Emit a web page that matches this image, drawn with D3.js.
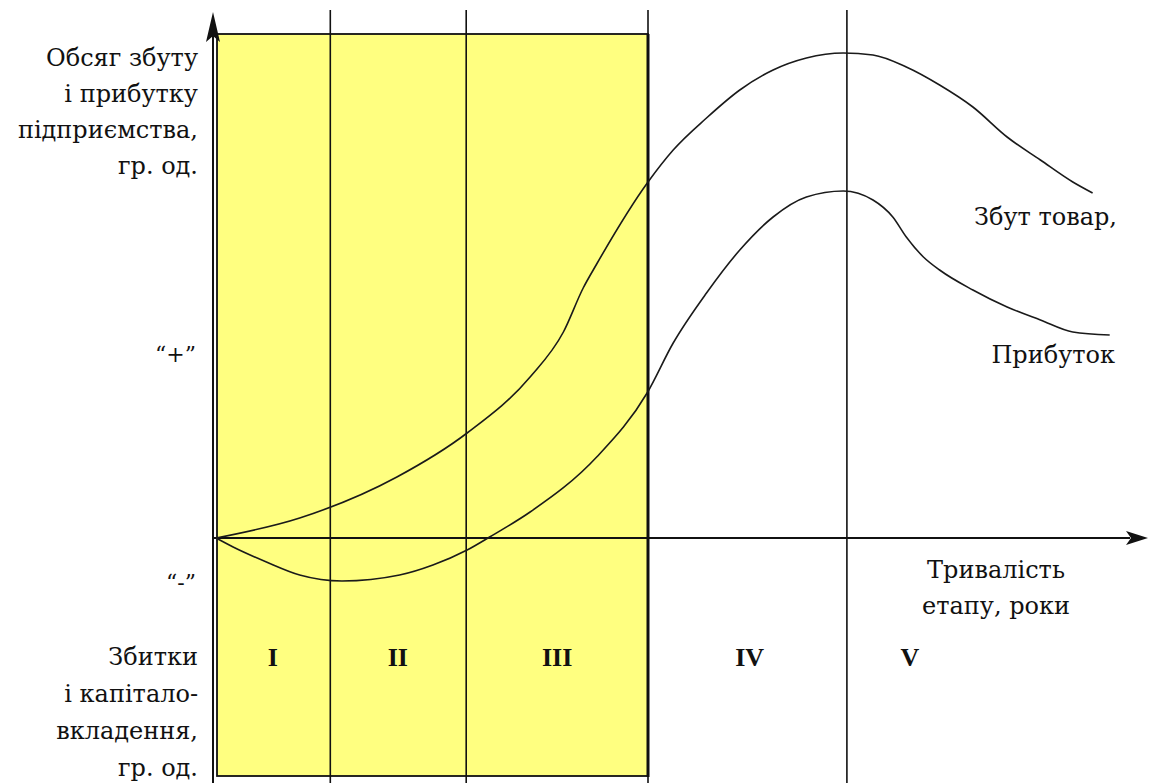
<!DOCTYPE html>
<html>
<head>
<meta charset="utf-8">
<script src="https://cdn.jsdelivr.net/npm/d3@7"></script>
<style>
  body { margin: 0; background: #fff; }
</style>
</head>
<body>
<div id="container"></div>
<script>
// DATA ####################################
// x: stage duration (conventional units), y: volume (conventional units)
const stages = ["I", "II", "III", "IV", "V"];
const stageBounds = [12.7, 27.8, 48.0, 70.1];   // vertical dividers
const stageLabelX = [6.3, 20.2, 37.9, 59.3, 77.1];
const shadedUntil = 48.0;                        // yellow zone (stages I-III)

const salesX = [0, 9.3, 20.1, 27.9, 34.9, 38.6, 40.8, 42.3, 48.0, 50.8, 54.5, 58.2, 61.9, 65.6, 69.7, 73.0, 76.7, 80.4, 84.1, 87.9, 91.6, 95.2, 97.4];
const salesY = [0, 2.0, 6.1, 10.5, 16.1, 20.6, 25.0, 27.4, 35.6, 38.8, 42.0, 44.8, 46.8, 48.0, 48.5, 48.3, 47.1, 45.3, 43.1, 40.1, 37.8, 35.6, 34.5];

const profitX = [0, 1.9, 5.6, 9.3, 14.0, 20.4, 24.1, 27.9, 30.4, 34.9, 42.3, 47.9, 50.8, 54.5, 58.2, 61.9, 65.6, 69.7, 73.0, 75.2, 76.7, 78.6, 80.4, 84.1, 87.9, 91.6, 95.2, 99.3];
const profitY = [0, -0.9, -2.4, -3.7, -4.3, -3.7, -2.7, -1.2, 0.1, 2.6, 8.1, 14.5, 19.5, 24.5, 28.8, 32.1, 34.1, 34.7, 33.8, 32.1, 30.1, 28.1, 26.8, 24.8, 23.1, 21.8, 20.6, 20.3];

const yTitleTop = ["Обсяг збуту", "і прибутку", "підприємства,", "гр. од."];
const yTitleBottom = ["Збитки", "і капітало-", "вкладення,", "гр. од."];
const xTitle = ["Тривалість", "етапу, роки"];
const plusLabel = "“+”";
const minusLabel = "“-”";
const salesLabel = "Збут товар,";
const profitLabel = "Прибуток";

// CONSTANTS ###############################
const width = 1149, height = 783;
const fontSize = 24;
const serif = "'DejaVu Serif', 'Liberation Serif', serif";

const xScale = d3.scaleLinear().domain([0, 100]).range([216, 1116]);
const yScale = d3.scaleLinear().domain([0, 50]).range([538, 38]);

const sales = salesX.map((x, i) => ({ x, y: salesY[i] }));
const profit = profitX.map((x, i) => ({ x, y: profitY[i] }));

// DRAW ####################################
const svg = d3.select("#container")
  .append("svg")
  .attr("width", width)
  .attr("height", height)
  .attr("font-family", serif)
  .attr("fill", "#111");

const x0 = xScale(0);
const y0 = yScale(0);

// yellow zone
svg.append("rect")
  .attr("x", x0 + 1)
  .attr("y", yScale(50.4))
  .attr("width", xScale(shadedUntil) - x0 - 1)
  .attr("height", yScale(-23.8) - yScale(50.4))
  .attr("fill", "#ffff80")
  .attr("stroke", "#111")
  .attr("stroke-width", 1.8);

// thicker right edge
svg.append("line")
  .attr("x1", xScale(shadedUntil)).attr("x2", xScale(shadedUntil))
  .attr("y1", yScale(50.4)).attr("y2", yScale(-23.9))
  .attr("stroke", "#111").attr("stroke-width", 3);

// stage dividers
svg.selectAll("line.stage")
  .data(stageBounds)
  .join("line")
  .attr("class", "stage")
  .attr("x1", d => xScale(d)).attr("x2", d => xScale(d))
  .attr("y1", yScale(52.8)).attr("y2", height)
  .attr("stroke", "#111")
  .attr("stroke-width", 1.6);

// axes
const xArrowEnd = 1148;
svg.append("line")
  .attr("x1", x0 - 3).attr("x2", xArrowEnd - 18)
  .attr("y1", y0).attr("y2", y0)
  .attr("stroke", "#111").attr("stroke-width", 2);
svg.append("path")
  .attr("d", `M${xArrowEnd},${y0} L${xArrowEnd - 22},${y0 - 7} L${xArrowEnd - 17},${y0} L${xArrowEnd - 22},${y0 + 7} Z`)
  .attr("fill", "#111");

const yTop = 12;
svg.append("line")
  .attr("x1", x0 - 3).attr("x2", x0 - 3)
  .attr("y1", yTop + 18).attr("y2", height)
  .attr("stroke", "#111").attr("stroke-width", 2);
svg.append("path")
  .attr("d", `M${x0 - 3},${yTop} L${x0 - 10},${yTop + 30} L${x0 - 3},${yTop + 24} L${x0 + 4},${yTop + 30} Z`)
  .attr("fill", "#111");

// curves
const line = d3.line()
  .x(d => xScale(d.x))
  .y(d => yScale(d.y))
  .curve(d3.curveMonotoneX);

svg.selectAll("path.curve")
  .data([sales, profit])
  .join("path")
  .attr("class", "curve")
  .attr("d", line)
  .attr("fill", "none")
  .attr("stroke", "#1a1a1a")
  .attr("stroke-width", 1.6);

// stage labels
svg.selectAll("text.stage")
  .data(stages)
  .join("text")
  .attr("class", "stage")
  .attr("x", (d, i) => xScale(stageLabelX[i]))
  .attr("y", 666)
  .attr("text-anchor", "middle")
  .attr("font-family", "'Liberation Serif', serif")
  .attr("font-size", 26)
  .attr("font-weight", "bold")
  .text(d => d);

// y titles
const yTitleX = 198;
svg.selectAll("text.ytop")
  .data(yTitleTop)
  .join("text")
  .attr("class", "ytop")
  .attr("x", yTitleX)
  .attr("y", (d, i) => 66 + i * 36)
  .attr("text-anchor", "end")
  .attr("font-size", fontSize)
  .text(d => d);

svg.selectAll("text.ybottom")
  .data(yTitleBottom)
  .join("text")
  .attr("class", "ybottom")
  .attr("x", yTitleX)
  .attr("y", (d, i) => 665 + i * 37)
  .attr("text-anchor", "end")
  .attr("font-size", fontSize)
  .text(d => d);

svg.append("text")
  .attr("x", yTitleX - 2).attr("y", 362)
  .attr("text-anchor", "end")
  .attr("font-size", 22)
  .text(plusLabel);

svg.append("text")
  .attr("x", yTitleX - 2).attr("y", 590)
  .attr("text-anchor", "end")
  .attr("font-size", 22)
  .text(minusLabel);

// x title
svg.selectAll("text.xtitle")
  .data(xTitle)
  .join("text")
  .attr("class", "xtitle")
  .attr("x", 996)
  .attr("y", (d, i) => 578 + i * 36)
  .attr("text-anchor", "middle")
  .attr("font-size", fontSize)
  .text(d => d);

// curve labels
svg.append("text")
  .attr("x", 1117).attr("y", 225)
  .attr("text-anchor", "end")
  .attr("font-size", fontSize)
  .text(salesLabel);

svg.append("text")
  .attr("x", 1115).attr("y", 363)
  .attr("text-anchor", "end")
  .attr("font-size", fontSize)
  .text(profitLabel);
</script>
</body>
</html>
